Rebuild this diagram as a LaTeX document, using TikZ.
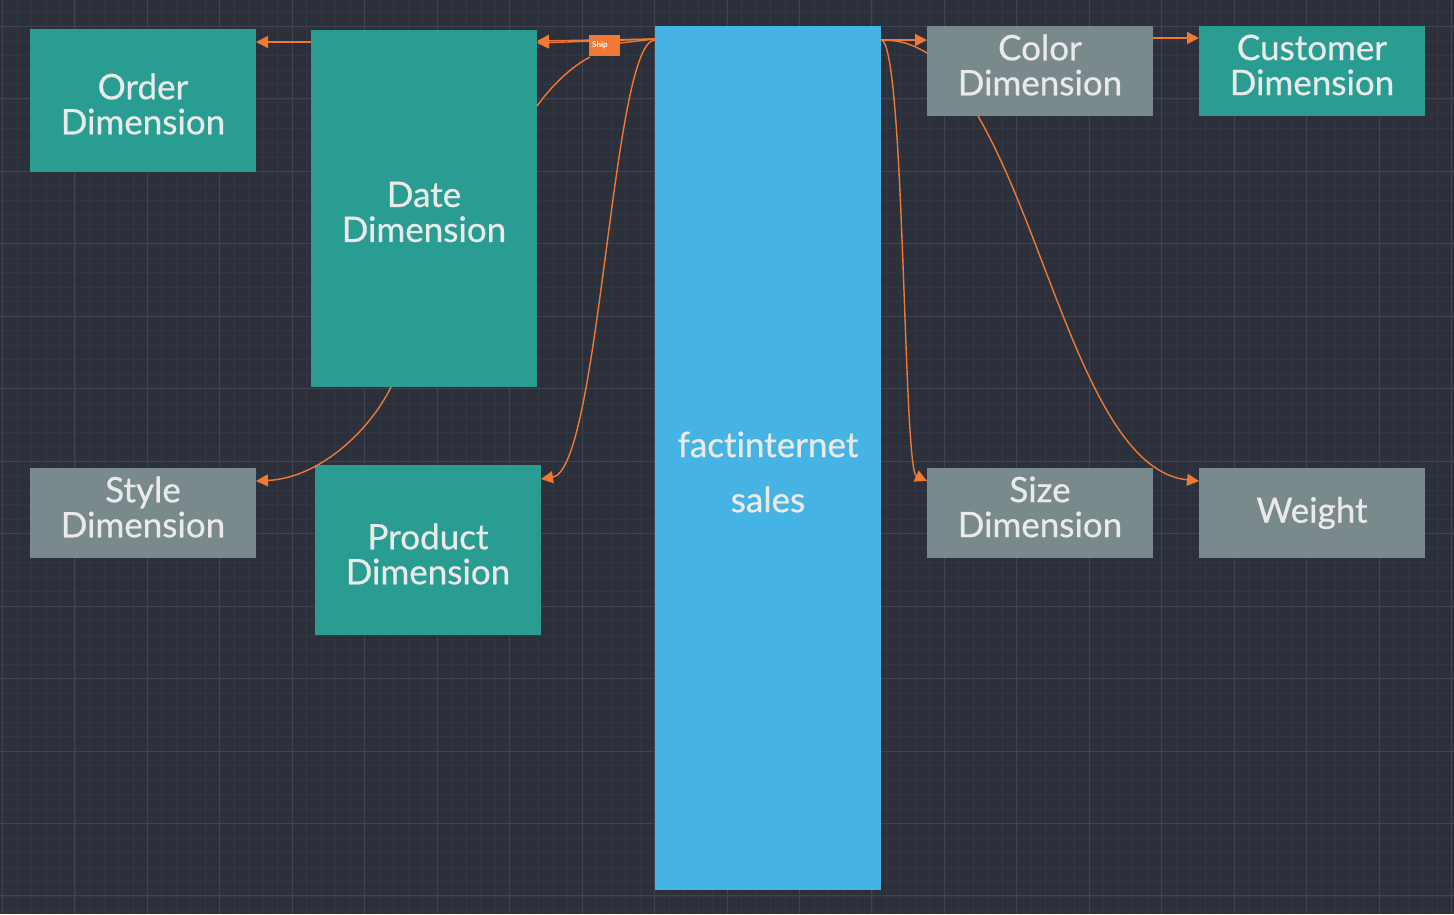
\documentclass[tikz,border=0pt]{standalone}
\usepackage{fontspec}
\setmainfont{Lato}[Ligatures=NoCommon]
\newfontfamily\boxfont{Lato}[Ligatures=NoCommon, FakeBold=0.6]
\usetikzlibrary{arrows.meta,calc}
\definecolor{bg}{HTML}{2B303B}
\definecolor{gminor}{HTML}{323743}
\definecolor{gmajor}{HTML}{3F4450}
\definecolor{teal}{HTML}{2A9D93}
\definecolor{grayb}{HTML}{7A898B}
\definecolor{blueb}{HTML}{45B3E4}
\definecolor{orng}{HTML}{F27935}
\definecolor{txt}{HTML}{EAEAEA}
\tikzset{
  box/.style={draw=none, minimum width=226pt, inner sep=0pt, outer sep=0pt, anchor=north west},
  tealbox/.style={box, fill=teal},
  graybox/.style={box, fill=grayb},
  bluebox/.style={box, fill=blueb},
  lbl/.style={text=txt, align=center, font=\boxfont\fontsize{35}{35}\selectfont, inner sep=0pt},
  conn/.style={draw=orng, line width=1.4pt, -{Triangle[length=12pt,width=12pt]}},
  connn/.style={draw=orng, line width=1.4pt},
}
\begin{document}
\begin{tikzpicture}[x=1pt,y=-1pt]
\fill[bg] (0,0) rectangle (1454,914);
\useasboundingbox (0,0) rectangle (1454,914);
% grid
\foreach \i in {0,...,100} {\draw[gminor, line width=0.8pt] ({2.5+\i*14.49},0) -- ({2.5+\i*14.49},914);}
\foreach \i in {-1,...,62} {\draw[gminor, line width=0.8pt] (0,{26.5+\i*14.49}) -- (1454,{26.5+\i*14.49});}
\foreach \i in {0,...,20} {\draw[gmajor, line width=1pt] ({2.5+\i*72.45},0) -- ({2.5+\i*72.45},914);}
\foreach \i in {-1,...,12} {\draw[gmajor, line width=1pt] (0,{26.5+\i*72.45}) -- (1454,{26.5+\i*72.45});}

% boxes
\node[tealbox, minimum height=143pt] (order) at (30,29) {};
\node[tealbox, minimum height=357pt] (date) at (311,30) {};
\node[graybox, minimum height=90pt] (style) at (30,468) {};
\node[tealbox, minimum height=170pt] (product) at (315,465) {};
\node[bluebox, minimum height=864pt] (fact) at (655,26) {};
\node[graybox, minimum height=90pt] (color) at (927,26) {};
\node[tealbox, minimum height=90pt] (customer) at (1199,26) {};
\node[graybox, minimum height=90pt] (size) at (927,468) {};
\node[graybox, minimum height=90pt] (weight) at (1199,468) {};

% texts
\node[lbl] (order-t) at (143,104) {Order\\Dimension};
\node[lbl] (date-t) at (424,212) {Date\\Dimension};
\node[lbl] (style-t) at (143,507) {Style\\Dimension};
\node[lbl] (product-t) at (428,554) {Product\\Dimension};
\node[lbl, font=\boxfont\fontsize{35}{55}\selectfont] (fact-t) at (768,472) {factinternet\\sales};
\node[lbl] (color-t) at (1040,65) {Color\\Dimension};
\node[lbl] (customer-t) at (1312,65) {Customer\\Dimension};
\node[lbl] (size-t) at (1040,507) {Size\\Dimension};
\node[lbl] (weight-t) at (1312,513) {Weight};

% connectors
\draw[conn] (date.north west |- 0,42) -- (order.east |- 0,42);
\draw[conn] (fact.north west |- 0,39) -- (date.east |- 0,43);
\draw[conn] (fact.north west |- 0,39) -- (date.east |- 0,41);
\draw[connn] (fact.north west |- 0,39) -- (620,43);
\draw[connn] (590,57) .. controls (565,70) and (545,95) .. (date.east |- 0,106);
\draw[conn] (fact.north west |- 0,40) .. controls (612,40) and (600,470) .. (product.north east |- 0,479);
\draw[conn] (date.south -| 391,0) .. controls (370,430) and (320,478) .. (style.north east |- 0,481);
\draw[conn] (fact.north east |- 0,40) -- (color.west |- 0,40);
\draw[connn] (fact.north east |- 0,40) .. controls (903,40) and (915,46) .. (color.west |- 0,53);
\draw[conn] (fact.north east |- 0,40) .. controls (905,40) and (903,470) .. (size.north west |- 0,481);
\draw[conn] (color.south -| 978,0) .. controls (1050,240) and (1090,470) .. (weight.north west |- 0,481);
\draw[conn] (color.east |- 0,38) -- (customer.west |- 0,38);

% Ship label
\node[fill=orng, minimum width=31pt, minimum height=21pt, inner sep=0pt, anchor=north west] (ship) at (589,35) {};
\begin{scope}
\clip (ship.north west) rectangle ($(ship.south west)+(22,0)$);
\node[anchor=west, text=white, font=\bfseries\fontsize{8}{8}\selectfont, inner sep=0pt] (ship-t) at ($(ship.west)+(3,-1)$) {Ship};
\end{scope}
\end{tikzpicture}
\end{document}
